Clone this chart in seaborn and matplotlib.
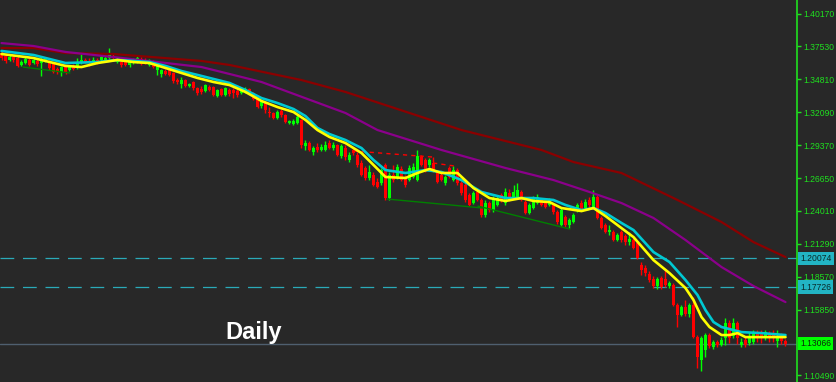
import numpy as np
import pandas as pd
import matplotlib
matplotlib.use("Agg")
import matplotlib.pyplot as plt
import matplotlib.transforms as mtransforms
import seaborn as sns

# ---------------- data (daily candles, oldest -> newest) ----------------
open_ = [1.3696, 1.3672, 1.3639, 1.3663, 1.3655, 1.3598, 1.3614, 1.3639, 1.3614, 1.3631,
         1.3614, 1.3631, 1.3622, 1.3606, 1.3565, 1.3540, 1.3581, 1.3557, 1.3590, 1.3573,
         1.3614, 1.3639, 1.3631, 1.3622, 1.3639, 1.3639, 1.3639, 1.3655, 1.3672, 1.3622,
         1.3622, 1.3622, 1.3598, 1.3614, 1.3622, 1.3647, 1.3639, 1.3598, 1.3631, 1.3557,
         1.3524, 1.3548, 1.3557, 1.3532, 1.3474, 1.3441, 1.3474, 1.3425, 1.3458, 1.3409,
         1.3400, 1.3384, 1.3417, 1.3417, 1.3343, 1.3400, 1.3351, 1.3392, 1.3392, 1.3384,
         1.3367, 1.3376, 1.3400, 1.3367, 1.3318, 1.3261, 1.3293, 1.3211, 1.3203, 1.3162,
         1.3219, 1.3187, 1.3121, 1.3113, 1.3121, 1.3146, 1.2932, 1.2956, 1.2882, 1.2924,
         1.2899, 1.2899, 1.2956, 1.2915, 1.2940, 1.2850, 1.2915, 1.2817, 1.2899, 1.2858,
         1.2792, 1.2751, 1.2669, 1.2693, 1.2636, 1.2628, 1.2776, 1.2504, 1.2693, 1.2677,
         1.2743, 1.2677, 1.2652, 1.2677, 1.2652, 1.2841, 1.2817, 1.2776, 1.2792, 1.2718,
         1.2693, 1.2628, 1.2751, 1.2652, 1.2734, 1.2628, 1.2611, 1.2529, 1.2463, 1.2554,
         1.2488, 1.2364, 1.2463, 1.2405, 1.2447, 1.2529, 1.2463, 1.2545, 1.2504, 1.2512,
         1.2554, 1.2471, 1.2381, 1.2422, 1.2463, 1.2488, 1.2463, 1.2447, 1.2447, 1.2389,
         1.2282, 1.2348, 1.2282, 1.2307, 1.2405, 1.2463, 1.2422, 1.2488, 1.2422, 1.2512,
         1.2340, 1.2282, 1.2225, 1.2225, 1.2159, 1.2225, 1.2192, 1.2142, 1.2159, 1.2134,
         1.1953, 1.1929, 1.1879, 1.1838, 1.1781, 1.1846, 1.1838, 1.1781, 1.1789, 1.1624,
         1.1542, 1.1608, 1.1550, 1.1624, 1.1361, 1.1172, 1.1254, 1.1378, 1.1279, 1.1320,
         1.1296, 1.1353, 1.1476, 1.1370, 1.1476, 1.1296, 1.1337, 1.1312, 1.1320, 1.1394,
         1.1394, 1.1353, 1.1386, 1.1394, 1.1328, 1.1370, 1.1328]
high = [1.3713, 1.3688, 1.3680, 1.3680, 1.3672, 1.3639, 1.3663, 1.3655, 1.3655, 1.3647,
        1.3663, 1.3663, 1.3639, 1.3622, 1.3581, 1.3590, 1.3590, 1.3598, 1.3606, 1.3655,
        1.3688, 1.3655, 1.3655, 1.3663, 1.3655, 1.3680, 1.3672, 1.3737, 1.3688, 1.3655,
        1.3639, 1.3639, 1.3639, 1.3655, 1.3672, 1.3663, 1.3655, 1.3647, 1.3639, 1.3606,
        1.3565, 1.3565, 1.3573, 1.3540, 1.3491, 1.3499, 1.3483, 1.3450, 1.3466, 1.3417,
        1.3425, 1.3441, 1.3433, 1.3425, 1.3400, 1.3409, 1.3417, 1.3409, 1.3409, 1.3400,
        1.3409, 1.3417, 1.3409, 1.3376, 1.3326, 1.3310, 1.3302, 1.3252, 1.3211, 1.3228,
        1.3236, 1.3195, 1.3146, 1.3154, 1.3195, 1.3154, 1.2981, 1.2973, 1.2932, 1.2956,
        1.2948, 1.2973, 1.2981, 1.2965, 1.2948, 1.2948, 1.2940, 1.2882, 1.2924, 1.2882,
        1.2817, 1.2767, 1.2776, 1.2718, 1.2669, 1.2751, 1.2792, 1.2718, 1.2776, 1.2784,
        1.2767, 1.2693, 1.2776, 1.2792, 1.2899, 1.2858, 1.2833, 1.2833, 1.2817, 1.2734,
        1.2718, 1.2693, 1.2767, 1.2767, 1.2751, 1.2644, 1.2628, 1.2545, 1.2562, 1.2570,
        1.2504, 1.2488, 1.2480, 1.2521, 1.2521, 1.2545, 1.2586, 1.2578, 1.2611, 1.2628,
        1.2570, 1.2488, 1.2463, 1.2521, 1.2537, 1.2504, 1.2480, 1.2504, 1.2463, 1.2405,
        1.2422, 1.2364, 1.2340, 1.2381, 1.2463, 1.2488, 1.2496, 1.2512, 1.2570, 1.2529,
        1.2356, 1.2299, 1.2282, 1.2241, 1.2216, 1.2241, 1.2208, 1.2225, 1.2175, 1.2151,
        1.1978, 1.1953, 1.1904, 1.1863, 1.1855, 1.1863, 1.1912, 1.1822, 1.1805, 1.1641,
        1.1624, 1.1666, 1.1641, 1.1690, 1.1378, 1.1370, 1.1394, 1.1394, 1.1337, 1.1337,
        1.1361, 1.1518, 1.1501, 1.1518, 1.1493, 1.1353, 1.1361, 1.1402, 1.1419, 1.1419,
        1.1419, 1.1419, 1.1411, 1.1419, 1.1419, 1.1394, 1.1345]
low = [1.3639, 1.3614, 1.3631, 1.3622, 1.3581, 1.3590, 1.3606, 1.3590, 1.3606, 1.3590,
       1.3507, 1.3622, 1.3557, 1.3532, 1.3524, 1.3507, 1.3524, 1.3548, 1.3557, 1.3565,
       1.3606, 1.3614, 1.3590, 1.3614, 1.3606, 1.3631, 1.3631, 1.3647, 1.3639, 1.3614,
       1.3581, 1.3590, 1.3581, 1.3606, 1.3614, 1.3598, 1.3606, 1.3590, 1.3573, 1.3516,
       1.3499, 1.3516, 1.3507, 1.3450, 1.3441, 1.3409, 1.3417, 1.3417, 1.3392, 1.3351,
       1.3359, 1.3376, 1.3384, 1.3343, 1.3335, 1.3343, 1.3343, 1.3343, 1.3326, 1.3335,
       1.3359, 1.3367, 1.3359, 1.3310, 1.3244, 1.3244, 1.3203, 1.3170, 1.3154, 1.3154,
       1.3170, 1.3121, 1.3113, 1.3104, 1.3113, 1.2915, 1.2899, 1.2891, 1.2858, 1.2882,
       1.2891, 1.2891, 1.2907, 1.2899, 1.2850, 1.2833, 1.2817, 1.2800, 1.2858, 1.2759,
       1.2685, 1.2652, 1.2652, 1.2603, 1.2586, 1.2611, 1.2488, 1.2488, 1.2636, 1.2660,
       1.2644, 1.2595, 1.2644, 1.2669, 1.2644, 1.2767, 1.2718, 1.2759, 1.2718, 1.2628,
       1.2644, 1.2611, 1.2669, 1.2644, 1.2611, 1.2529, 1.2471, 1.2438, 1.2455, 1.2480,
       1.2348, 1.2348, 1.2389, 1.2389, 1.2438, 1.2471, 1.2447, 1.2480, 1.2496, 1.2504,
       1.2480, 1.2373, 1.2373, 1.2414, 1.2455, 1.2438, 1.2422, 1.2438, 1.2373, 1.2290,
       1.2274, 1.2266, 1.2257, 1.2299, 1.2389, 1.2397, 1.2405, 1.2430, 1.2414, 1.2331,
       1.2249, 1.2216, 1.2200, 1.2151, 1.2151, 1.2142, 1.2118, 1.2118, 1.2085, 1.2003,
       1.1871, 1.1863, 1.1813, 1.1764, 1.1756, 1.1756, 1.1772, 1.1764, 1.1616, 1.1444,
       1.1534, 1.1534, 1.1526, 1.1353, 1.1106, 1.1082, 1.1197, 1.1271, 1.1263, 1.1279,
       1.1287, 1.1296, 1.1312, 1.1353, 1.1304, 1.1279, 1.1279, 1.1296, 1.1304, 1.1320,
       1.1312, 1.1337, 1.1320, 1.1320, 1.1279, 1.1304, 1.1287]
close = [1.3655, 1.3631, 1.3663, 1.3639, 1.3590, 1.3622, 1.3647, 1.3598, 1.3639, 1.3606,
         1.3639, 1.3647, 1.3573, 1.3540, 1.3540, 1.3581, 1.3532, 1.3581, 1.3565, 1.3614,
         1.3639, 1.3622, 1.3614, 1.3639, 1.3622, 1.3663, 1.3655, 1.3680, 1.3655, 1.3639,
         1.3598, 1.3598, 1.3622, 1.3639, 1.3655, 1.3606, 1.3614, 1.3639, 1.3581, 1.3590,
         1.3557, 1.3524, 1.3516, 1.3466, 1.3458, 1.3474, 1.3425, 1.3441, 1.3409, 1.3367,
         1.3376, 1.3433, 1.3392, 1.3351, 1.3392, 1.3351, 1.3409, 1.3359, 1.3367, 1.3351,
         1.3384, 1.3400, 1.3367, 1.3318, 1.3252, 1.3302, 1.3228, 1.3203, 1.3162, 1.3211,
         1.3187, 1.3129, 1.3137, 1.3137, 1.3170, 1.2940, 1.2956, 1.2899, 1.2915, 1.2899,
         1.2924, 1.2940, 1.2915, 1.2940, 1.2858, 1.2932, 1.2841, 1.2858, 1.2874, 1.2776,
         1.2693, 1.2669, 1.2718, 1.2611, 1.2595, 1.2734, 1.2504, 1.2693, 1.2652, 1.2759,
         1.2652, 1.2611, 1.2751, 1.2759, 1.2850, 1.2776, 1.2734, 1.2817, 1.2734, 1.2636,
         1.2652, 1.2677, 1.2677, 1.2734, 1.2628, 1.2545, 1.2488, 1.2447, 1.2545, 1.2488,
         1.2364, 1.2463, 1.2405, 1.2504, 1.2504, 1.2488, 1.2554, 1.2488, 1.2554, 1.2570,
         1.2488, 1.2381, 1.2447, 1.2496, 1.2512, 1.2447, 1.2430, 1.2488, 1.2389, 1.2307,
         1.2405, 1.2282, 1.2323, 1.2364, 1.2447, 1.2405, 1.2471, 1.2447, 1.2512, 1.2340,
         1.2257, 1.2225, 1.2241, 1.2159, 1.2200, 1.2159, 1.2142, 1.2167, 1.2093, 1.2011,
         1.1912, 1.1887, 1.1830, 1.1781, 1.1838, 1.1772, 1.1789, 1.1805, 1.1624, 1.1542,
         1.1608, 1.1550, 1.1624, 1.1361, 1.1197, 1.1353, 1.1378, 1.1287, 1.1320, 1.1296,
         1.1337, 1.1476, 1.1353, 1.1476, 1.1353, 1.1320, 1.1296, 1.1353, 1.1402, 1.1361,
         1.1353, 1.1402, 1.1361, 1.1361, 1.1353, 1.1328, 1.13066]

# moving averages (bar index -> value)
ma_fast_idx = [0, 8, 16, 20, 24, 29, 33, 37, 41, 45, 49, 53, 57, 61, 65, 69, 73, 76, 79, 82,
               86, 90, 93, 96, 101, 104, 107, 110, 114, 118, 122, 126, 130, 133, 137, 140,
               145, 148, 151, 155, 158, 163, 167, 171, 173, 175, 177, 180, 182, 184, 186, 196]
ma_fast_val = [1.3688, 1.3655, 1.3590, 1.3581, 1.3614, 1.3639, 1.3622, 1.3614, 1.3573, 1.3532,
               1.3491, 1.3458, 1.3433, 1.3376, 1.3302, 1.3252, 1.3211, 1.3146, 1.3063, 1.3006,
               1.2956, 1.2874, 1.2776, 1.2677, 1.2669, 1.2710, 1.2743, 1.2710, 1.2710, 1.2586,
               1.2504, 1.2480, 1.2504, 1.2480, 1.2471, 1.2422, 1.2397, 1.2422, 1.2356, 1.2257,
               1.2183, 1.1994, 1.1887, 1.1764, 1.1666, 1.1526, 1.1444, 1.1378, 1.1378, 1.1394,
               1.1361, 1.1361]
ma_mid_idx = [0, 8, 16, 24, 29, 33, 37, 41, 45, 49, 53, 57, 61, 65, 69, 73, 76, 79, 82, 86,
              90, 93, 96, 101, 106, 110, 115, 120, 126, 133, 138, 141, 145, 148, 151, 155,
              158, 163, 167, 171, 174, 176, 178, 180, 185, 190, 196]
ma_mid_val = [1.3713, 1.3680, 1.3614, 1.3622, 1.3639, 1.3631, 1.3622, 1.3590, 1.3548, 1.3516,
              1.3483, 1.3450, 1.3392, 1.3326, 1.3285, 1.3236, 1.3178, 1.3080, 1.3030, 1.2981,
              1.2915, 1.2817, 1.2734, 1.2710, 1.2734, 1.2718, 1.2652, 1.2554, 1.2504, 1.2504,
              1.2488, 1.2447, 1.2405, 1.2422, 1.2381, 1.2299, 1.2241, 1.2060, 1.1978, 1.1830,
              1.1707, 1.1583, 1.1485, 1.1444, 1.1402, 1.1394, 1.1378]
ma_slow_idx = [0, 8, 16, 28, 50, 57, 65, 86, 94, 110, 126, 138, 147, 155, 163, 171, 180, 188, 196]
ma_slow_val = [1.3778, 1.3754, 1.3705, 1.3663, 1.3581, 1.3524, 1.3458, 1.3203, 1.3063, 1.2899,
               1.2751, 1.2652, 1.2554, 1.2463, 1.2340, 1.2159, 1.1937, 1.1781, 1.1649]
ma_long_idx = [0, 8, 16, 28, 50, 57, 75, 86, 115, 135, 143, 155, 169, 180, 188, 196]
ma_long_val = [1.3737, 1.3737, 1.3696, 1.3688, 1.3631, 1.3598, 1.3474, 1.3376, 1.3063, 1.2899,
               1.2800, 1.2710, 1.2488, 1.2307, 1.2142, 1.2019]

# hand-drawn trend lines: (bar0, price0, bar1, price1)
green_lines = [(5.4, 1.3581, 17.1, 1.3532),
               (96.4, 1.2496, 120.4, 1.2422),
               (119.1, 1.2438, 142.1, 1.2249)]
red_dashed = [(87.9, 1.2891, 107.9, 1.2841),
              (107.9, 1.2841, 107.9, 1.2792),
              (107.9, 1.2792, 113.4, 1.2767)]

level_lines = [1.20074, 1.17726]
level_labels = ["1.20074", "1.17726"]
last_price = 1.13066
last_label = "1.13066"
tick_vals = [1.40170, 1.37530, 1.34810, 1.32090, 1.29370, 1.26650, 1.24010,
             1.21290, 1.18570, 1.15850, 1.10490]
tick_labels = ["1.40170", "1.37530", "1.34810", "1.32090", "1.29370", "1.26650",
               "1.24010", "1.21290", "1.18570", "1.15850", "1.10490"]
title_text = "Daily"

# ---------------- styling ----------------
BG = "#282828"
AXIS_GREEN = "#1fe01f"
sns.set_style("dark", {"axes.facecolor": BG, "figure.facecolor": BG})
plt.rcParams["font.family"] = ["Liberation Sans", "DejaVu Sans"]

W, H = 836, 382
fig = plt.figure(figsize=(W / 100, H / 100), dpi=100)
ax = fig.add_axes([0, 0, 797 / W, 1])
ax.set_facecolor(BG)

n = len(close)
df = pd.DataFrame({"bar": np.arange(n), "open": open_, "high": high, "low": low, "close": close})
df["up"] = df["close"] >= df["open"]
colors = np.where(df["up"], "#00ff00", "#ff0000")

# reference levels
for v in level_lines:
    ax.axhline(v, color="#2aaab8", linewidth=0.9, dashes=(11, 7), zorder=1)
ax.axhline(last_price, color="#4f5f6f", linewidth=1.0, zorder=1)

# candles
ax.vlines(df["bar"], df["low"], df["high"], colors=colors, linewidth=1.0, zorder=2)
body_lo = np.minimum(df["open"], df["close"])
body_h = (df["close"] - df["open"]).abs()
ax.bar(df["bar"], body_h, bottom=body_lo, width=0.75, color=colors, linewidth=0, zorder=3)

# moving averages
sns.lineplot(x=ma_long_idx, y=ma_long_val, ax=ax, color="#8b0000", linewidth=1.6, zorder=4)
sns.lineplot(x=ma_slow_idx, y=ma_slow_val, ax=ax, color="#8b008b", linewidth=1.6, zorder=4)
sns.lineplot(x=ma_mid_idx, y=ma_mid_val, ax=ax, color="#00c8d2", linewidth=1.9, zorder=5)
sns.lineplot(x=ma_fast_idx, y=ma_fast_val, ax=ax, color="#ffff00", linewidth=1.9, zorder=6)

# trend lines
for x0, y0, x1, y1 in green_lines:
    ax.plot([x0, x1], [y0, y1], color="#008000", linewidth=1.0, zorder=4)
for x0, y0, x1, y1 in red_dashed:
    ax.plot([x0, x1], [y0, y1], color="#ff0000", linewidth=1.0, dashes=(3, 3), zorder=4)

# axes
ax.set_xlim(-0.375, 198.875)
ax.set_ylim(1.0992, 1.4132)
ax.set_xticks([])
ax.yaxis.tick_right()
ax.set_yticks(tick_vals)
ax.set_yticklabels(tick_labels)
ax.tick_params(axis="y", colors=AXIS_GREEN, length=3, width=1, labelsize=6.2, pad=1.5,
               direction="out")
for s in ["top", "left", "bottom"]:
    ax.spines[s].set_visible(False)
ax.spines["right"].set_visible(True)
ax.spines["right"].set_color(AXIS_GREEN)
ax.spines["right"].set_linewidth(1.2)
ax.grid(False)

# price boxes on the axis
trans = mtransforms.blended_transform_factory(ax.transAxes, ax.transData)
for v, lab in zip(level_lines, level_labels):
    ax.text(1.004, v, lab, transform=trans, ha="left", va="center", fontsize=6.2,
            color="#0a2a2a", clip_on=False, zorder=10,
            bbox=dict(boxstyle="square,pad=0.25", facecolor="#22b4c4", edgecolor="none"))
ax.text(1.004, last_price, last_label, transform=trans, ha="left", va="center", fontsize=6.2,
        color="#0a2a0a", clip_on=False, zorder=10,
        bbox=dict(boxstyle="square,pad=0.25", facecolor="#00ff00", edgecolor="none"))

# title text
ax.text(254 / 797, 1 - 339 / H, title_text, transform=ax.transAxes, ha="center",
        va="baseline", fontsize=17, fontweight="bold", color="white", zorder=10)

fig.savefig("out.png", dpi=100, facecolor=BG)
